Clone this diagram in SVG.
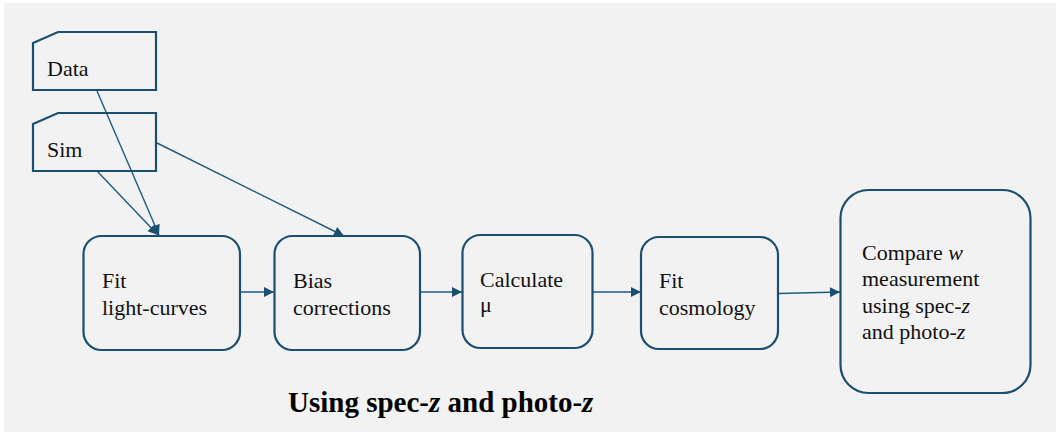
<svg xmlns="http://www.w3.org/2000/svg" width="1056" height="432" viewBox="0 0 1056 432">
<style>
.box{fill:none;stroke:#1b4f72;stroke-width:2.2}
.t{font-family:"Liberation Serif","Times New Roman",serif;font-size:22px;fill:#111}
.c{fill:none;stroke:#1f5a80;stroke-width:1.4}
.title{font-family:"Liberation Serif","Times New Roman",serif;font-size:29px;font-weight:bold;fill:#000}
</style>
<defs>
<marker id="ah" viewBox="0 0 10 10" refX="10" refY="5" markerWidth="12" markerHeight="10" markerUnits="userSpaceOnUse" orient="auto">
<path d="M0,0 L10,5 L0,10 Z" fill="#1b4f72"/>
</marker>
</defs>
<rect x="0" y="0" width="1056" height="432" fill="#ffffff"/>
<rect x="4" y="3" width="1052" height="429" fill="#f2f2f2"/>
<g id="connectors">
<line class="c" x1="97" y1="91" x2="159" y2="235" marker-end="url(#ah)"/>
<line class="c" x1="97" y1="171" x2="158" y2="235" marker-end="url(#ah)"/>
<line class="c" x1="157" y1="143" x2="344" y2="236" marker-end="url(#ah)"/>
<line class="c" x1="240" y1="292" x2="274" y2="292" marker-end="url(#ah)"/>
<line class="c" x1="420" y1="292" x2="462" y2="292" marker-end="url(#ah)"/>
<line class="c" x1="593" y1="292" x2="641" y2="292" marker-end="url(#ah)"/>
<line class="c" x1="778" y1="293.5" x2="840" y2="292" marker-end="url(#ah)"/>
</g>
<g id="data">
<path class="box" d="M33,43 L58,32 L156,32 L156,90 L33,90 Z"/>
<text class="t" x="47" y="76">Data</text>
</g>
<g id="sim">
<path class="box" d="M33,124 L58,113 L156,113 L156,171 L33,171 Z"/>
<text class="t" x="47" y="157">Sim</text>
</g>
<g id="fit-lc">
<rect class="box" x="83.5" y="236" width="156.5" height="114" rx="18"/>
<text class="t" x="102" y="288">Fit</text>
<text class="t" x="102" y="315">light-curves</text>
</g>
<g id="bias">
<rect class="box" x="274.5" y="236" width="145.5" height="114" rx="18"/>
<text class="t" x="293" y="288">Bias</text>
<text class="t" x="293" y="315">corrections</text>
</g>
<g id="calc">
<rect class="box" x="462.5" y="235" width="130" height="113" rx="18"/>
<text class="t" x="480" y="287">Calculate</text>
<text class="t" x="480" y="312">μ</text>
</g>
<g id="fit-cosmo">
<rect class="box" x="641" y="237" width="137" height="112" rx="18"/>
<text class="t" x="659" y="288">Fit</text>
<text class="t" x="659" y="315">cosmology</text>
</g>
<g id="compare">
<rect class="box" x="840.5" y="190" width="190" height="203" rx="28"/>
<text class="t" x="862" y="260">Compare <tspan font-style="italic">w</tspan></text>
<text class="t" x="862" y="286">measurement</text>
<text class="t" x="862" y="312.5">using spec-<tspan font-style="italic">z</tspan></text>
<text class="t" x="862" y="339">and photo-<tspan font-style="italic">z</tspan></text>
</g>
<text class="title" x="288" y="412">Using spec-<tspan font-style="italic">z</tspan> and photo-<tspan font-style="italic">z</tspan></text>
</svg>
